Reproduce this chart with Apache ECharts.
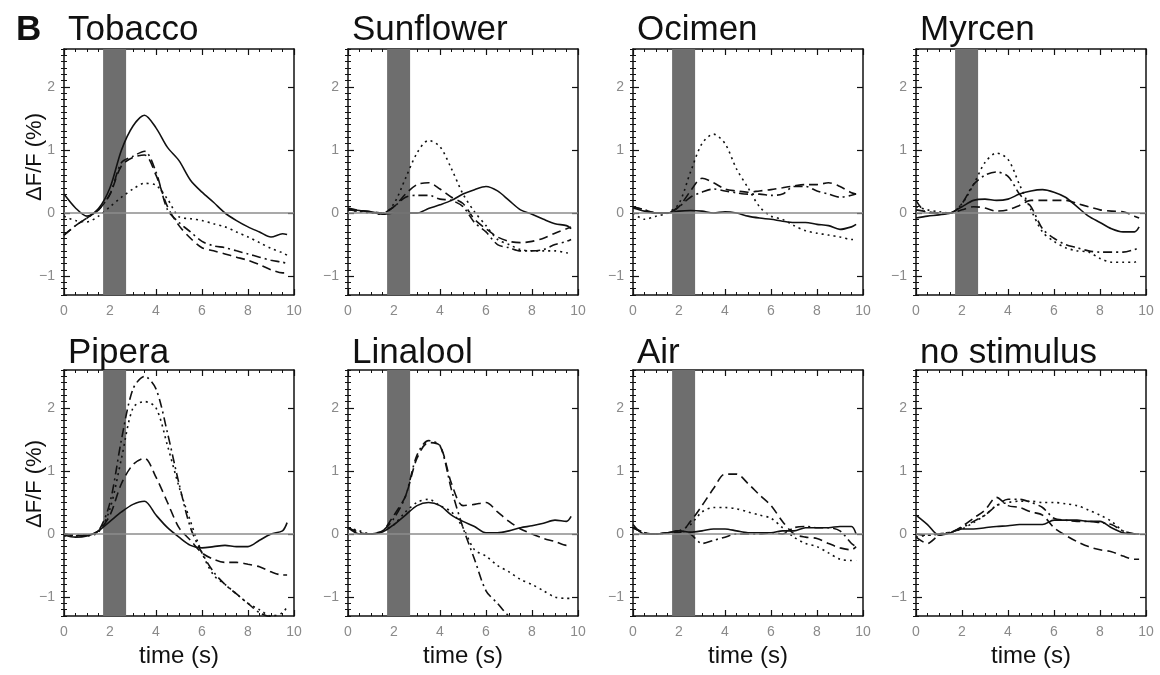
<!DOCTYPE html>
<html>
<head>
<meta charset="utf-8">
<title>ΔF/F traces</title>
<script src="https://cdn.jsdelivr.net/npm/echarts@6/dist/echarts.min.js"></script>
<style>
  html, body { margin: 0; padding: 0; background: #fff; }
  #chart { width: 1160px; height: 675px; }
</style>
</head>
<body>
<div id="chart"></div>
<script>
// sample times (s), shared by every trace
const times = [0, 0.5, 1, 1.5, 2, 2.5, 3, 3.5, 4, 4.5, 5, 5.5, 6, 6.5, 7, 7.5, 8, 8.5, 9, 9.5, 9.7];

// each odour: [solid, dotted, dashed, dash-dot] traces, ΔF/F in %
const tobacco = [
  [0.30, 0.08, -0.05, 0.07, 0.40, 1.00, 1.38, 1.55, 1.35, 1.04, 0.83, 0.52, 0.33, 0.17, 0.00, -0.12, -0.22, -0.30, -0.38, -0.33, -0.34],
  [-0.05, -0.12, -0.14, -0.05, 0.10, 0.25, 0.38, 0.47, 0.44, 0.22, -0.06, -0.09, -0.12, -0.17, -0.22, -0.30, -0.38, -0.47, -0.56, -0.63, -0.67],
  [-0.35, -0.20, -0.08, 0.05, 0.30, 0.75, 0.88, 0.92, 0.60, 0.10, -0.20, -0.40, -0.55, -0.60, -0.65, -0.70, -0.75, -0.82, -0.90, -0.95, -0.95],
  [-0.35, -0.20, -0.08, 0.05, 0.30, 0.80, 0.90, 0.98, 0.65, 0.05, -0.15, -0.30, -0.45, -0.52, -0.55, -0.60, -0.65, -0.70, -0.75, -0.78, -0.80]
];
const sunflower = [
  [0.06, 0.04, 0.02, -0.02, 0.00, 0.00, 0.00, 0.07, 0.13, 0.20, 0.30, 0.37, 0.42, 0.35, 0.20, 0.05, -0.02, -0.10, -0.17, -0.20, -0.25],
  [0.05, 0.02, 0.00, -0.02, 0.15, 0.55, 0.95, 1.15, 1.05, 0.70, 0.30, 0.02, -0.20, -0.42, -0.50, -0.58, -0.60, -0.60, -0.60, -0.63, -0.64],
  [0.08, 0.04, 0.02, 0.00, 0.10, 0.30, 0.45, 0.48, 0.38, 0.25, 0.15, -0.10, -0.25, -0.38, -0.45, -0.47, -0.45, -0.40, -0.32, -0.25, -0.22],
  [0.05, 0.03, 0.01, 0.00, 0.10, 0.25, 0.28, 0.28, 0.22, 0.20, 0.10, -0.15, -0.30, -0.50, -0.55, -0.60, -0.60, -0.58, -0.50, -0.45, -0.42]
];
const ocimen = [
  [0.08, 0.03, 0.00, 0.00, 0.03, 0.04, 0.03, 0.00, 0.02, 0.00, -0.05, -0.08, -0.10, -0.13, -0.15, -0.15, -0.18, -0.20, -0.26, -0.22, -0.18],
  [0.00, -0.10, -0.05, 0.00, 0.15, 0.65, 1.10, 1.25, 1.10, 0.70, 0.40, 0.10, -0.05, -0.10, -0.20, -0.28, -0.32, -0.35, -0.38, -0.42, -0.42],
  [0.10, 0.05, 0.00, 0.00, 0.10, 0.35, 0.55, 0.48, 0.38, 0.35, 0.33, 0.35, 0.37, 0.40, 0.43, 0.45, 0.45, 0.48, 0.42, 0.32, 0.30],
  [0.10, 0.05, 0.00, 0.00, 0.10, 0.25, 0.33, 0.38, 0.35, 0.32, 0.30, 0.30, 0.28, 0.30, 0.42, 0.42, 0.35, 0.30, 0.25, 0.28, 0.30]
];
const myrcen = [
  [-0.08, -0.05, -0.03, 0.00, 0.10, 0.20, 0.22, 0.20, 0.22, 0.30, 0.35, 0.37, 0.33, 0.25, 0.10, -0.05, -0.15, -0.25, -0.30, -0.30, -0.22],
  [0.10, 0.05, 0.02, 0.00, 0.15, 0.45, 0.80, 0.95, 0.85, 0.45, 0.05, -0.30, -0.45, -0.55, -0.60, -0.62, -0.72, -0.78, -0.78, -0.78, -0.75],
  [0.05, 0.02, 0.00, 0.00, 0.05, 0.10, 0.08, 0.03, 0.05, 0.12, 0.20, 0.20, 0.20, 0.20, 0.15, 0.10, 0.05, 0.03, 0.02, -0.05, -0.08],
  [0.20, 0.00, 0.00, 0.00, 0.15, 0.45, 0.60, 0.65, 0.58, 0.30, 0.10, -0.25, -0.40, -0.50, -0.55, -0.60, -0.62, -0.62, -0.62, -0.58, -0.55]
];
const pipera = [
  [-0.02, -0.05, -0.03, 0.05, 0.20, 0.35, 0.47, 0.52, 0.30, 0.10, -0.05, -0.18, -0.22, -0.20, -0.18, -0.20, -0.20, -0.10, 0.00, 0.05, 0.18],
  [-0.03, -0.03, -0.03, 0.03, 0.40, 1.20, 2.00, 2.10, 2.00, 1.40, 0.75, 0.20, -0.30, -0.65, -0.80, -0.95, -1.10, -1.20, -1.30, -1.25, -1.15],
  [0.00, -0.02, -0.02, 0.05, 0.30, 0.80, 1.10, 1.20, 0.90, 0.50, 0.10, -0.10, -0.30, -0.40, -0.45, -0.45, -0.48, -0.52, -0.60, -0.65, -0.65],
  [0.00, -0.02, -0.02, 0.05, 0.50, 1.50, 2.30, 2.50, 2.30, 1.60, 0.80, 0.10, -0.30, -0.60, -0.80, -0.95, -1.10, -1.25, -1.32, -1.35, -1.35]
];
const linalool = [
  [0.10, 0.00, 0.00, 0.03, 0.15, 0.30, 0.45, 0.50, 0.45, 0.30, 0.20, 0.12, 0.02, 0.02, 0.05, 0.10, 0.13, 0.17, 0.22, 0.20, 0.28],
  [0.10, 0.05, 0.00, 0.05, 0.15, 0.35, 0.50, 0.55, 0.45, 0.35, 0.10, -0.25, -0.35, -0.50, -0.60, -0.72, -0.80, -0.90, -1.00, -1.02, -1.02],
  [0.10, 0.02, 0.00, 0.05, 0.30, 0.60, 1.20, 1.45, 1.40, 0.80, 0.45, 0.47, 0.50, 0.35, 0.20, 0.08, 0.00, -0.07, -0.12, -0.18, -0.18],
  [0.10, 0.02, 0.00, 0.05, 0.25, 0.60, 1.25, 1.48, 1.40, 0.70, 0.10, -0.40, -0.90, -1.10, -1.30, -1.40, -1.45, -1.45, -1.45, -1.45, -1.45]
];
const air = [
  [0.15, 0.00, 0.00, 0.02, 0.05, 0.03, 0.05, 0.08, 0.08, 0.05, 0.02, 0.02, 0.02, 0.05, 0.05, 0.10, 0.10, 0.10, 0.12, 0.12, 0.00],
  [0.10, 0.02, 0.00, 0.02, 0.05, 0.15, 0.35, 0.42, 0.42, 0.40, 0.35, 0.30, 0.25, 0.10, -0.05, -0.15, -0.20, -0.30, -0.40, -0.42, -0.42],
  [0.10, 0.02, 0.00, 0.02, 0.02, 0.20, 0.45, 0.72, 0.95, 0.95, 0.80, 0.62, 0.45, 0.20, 0.00, -0.05, -0.07, -0.15, -0.22, -0.25, -0.20],
  [0.10, 0.02, 0.00, 0.02, 0.05, 0.00, -0.15, -0.10, -0.05, 0.00, 0.00, 0.00, 0.02, 0.00, 0.10, 0.12, 0.10, 0.10, 0.05, -0.15, -0.20]
];
const noStimulus = [
  [0.30, 0.15, -0.02, 0.02, 0.08, 0.08, 0.10, 0.12, 0.13, 0.15, 0.15, 0.15, 0.22, 0.22, 0.22, 0.20, 0.20, 0.10, 0.02, 0.00, 0.00],
  [-0.05, -0.02, 0.00, 0.03, 0.08, 0.18, 0.30, 0.45, 0.50, 0.52, 0.52, 0.50, 0.50, 0.48, 0.45, 0.38, 0.30, 0.20, 0.05, 0.00, -0.02],
  [-0.05, -0.15, -0.02, 0.02, 0.12, 0.25, 0.38, 0.58, 0.45, 0.42, 0.35, 0.30, 0.10, -0.02, -0.12, -0.20, -0.25, -0.28, -0.35, -0.40, -0.40],
  [0.00, -0.02, 0.00, 0.03, 0.10, 0.20, 0.30, 0.45, 0.55, 0.55, 0.50, 0.42, 0.25, 0.22, 0.20, 0.20, 0.18, 0.15, 0.05, 0.00, -0.02]
];

const panelNames = ['Tobacco', 'Sunflower', 'Ocimen', 'Myrcen', 'Pipera', 'Linalool', 'Air', 'no stimulus'];
const panelData = [tobacco, sunflower, ocimen, myrcen, pipera, linalool, air, noStimulus];
const hasStimulus = [true, true, true, true, true, true, true, false];
const stimStart = 1.7, stimEnd = 2.7;   // grey bar, s
const yMajor = [-1, 0, 1, 2];

const FONT = "'Liberation Sans', Arial, Helvetica, sans-serif";
const colLeft = [64, 348, 633, 916];
const rowTop = [49, 370];
const plotW = 230, plotH = 246;

// solid, dotted, dashed, dash-dot
const dashes = ['solid', [2, 4], [9, 5], [9, 4, 2, 4]];

const grid = [], xAxis = [], yAxis = [], series = [], title = [];

title.push({ text: 'B', left: 11, top: 8, textStyle: { fontSize: 35, fontWeight: 'bold', color: '#111', fontFamily: FONT } });

panelNames.forEach((name, i) => {
  const col = i % 4, row = Math.floor(i / 4);
  grid.push({ left: colLeft[col], top: rowTop[row], width: plotW, height: plotH });
  title.push({
    text: name, left: colLeft[col] - 1, top: row === 0 ? 8 : 331,
    textStyle: { fontSize: 35, fontWeight: 'normal', color: '#111', fontFamily: FONT }
  });

  const line = { show: true, onZero: false, lineStyle: { color: '#111', width: 1.5 } };
  const xBase = {
    gridIndex: i, type: 'value', min: 0, max: 10, interval: 2,
    axisLine: line, splitLine: { show: false },
    axisTick: { show: true, inside: true, length: 6, lineStyle: { color: '#111', width: 1.2 } },
    minorTick: { show: true, splitNumber: 4, length: 3, lineStyle: { color: '#111', width: 1 } }
  };
  xAxis.push(Object.assign({}, xBase, {
    position: 'bottom',
    axisLabel: { color: '#8a8a8a', fontSize: 14, margin: 9, fontFamily: FONT },
    name: row === 1 ? 'time (s)' : '', nameLocation: 'middle', nameGap: 28,
    nameTextStyle: { fontSize: 24, color: '#111', fontFamily: FONT }
  }));
  xAxis.push(Object.assign({}, xBase, { position: 'top', axisLabel: { show: false } }));

  ['left', 'right'].forEach(pos => {
    // major ticks (with labels on the left)
    yAxis.push({
      gridIndex: i, type: 'value', min: -1.3, max: 2.6, position: pos,
      axisLine: line, splitLine: { show: false },
      axisTick: { show: true, inside: true, length: 6, customValues: yMajor, lineStyle: { color: '#111', width: 1.2 } },
      axisLabel: {
        show: pos === 'left', customValues: yMajor, color: '#8a8a8a', fontSize: 14, margin: 9, fontFamily: FONT,
        formatter: v => (v < 0 ? '\u2212' + Math.abs(v) : String(v))
      }
    });
    // minor ticks every 0.1
    yAxis.push({
      gridIndex: i, type: 'value', min: -1.3, max: 2.6, interval: 0.1, position: pos,
      axisLine: { show: false }, splitLine: { show: false }, axisLabel: { show: false },
      axisTick: { show: true, inside: true, length: 3, lineStyle: { color: '#111', width: 1 } }
    });
  });

  // stimulus bar + zero line
  series.push({
    type: 'line', xAxisIndex: 2 * i, yAxisIndex: 4 * i, data: [], z: 1, silent: true,
    markArea: hasStimulus[i] ? {
      silent: true, itemStyle: { color: '#6e6e6e', opacity: 1 },
      data: [[{ xAxis: stimStart }, { xAxis: stimEnd }]]
    } : undefined,
    markLine: {
      silent: true, symbol: 'none', label: { show: false },
      lineStyle: { color: '#8c8c8c', width: 1.5, type: 'solid' },
      data: [{ yAxis: 0 }]
    }
  });

  panelData[i].forEach((vals, k) => {
    series.push({
      type: 'line', xAxisIndex: 2 * i, yAxisIndex: 4 * i, z: 3,
      symbol: 'none', smooth: 0.3, silent: true,
      lineStyle: { color: '#111', width: 1.6, type: dashes[k] },
      data: times.map((t, j) => [t, vals[j]])
    });
  });
});

const chart = echarts.init(document.getElementById('chart'));
chart.setOption({
  backgroundColor: '#fff',
  animation: false,
  title: title,
  grid: grid,
  xAxis: xAxis,
  yAxis: yAxis,
  series: series,
  graphic: [
    { type: 'text', x: 35, y: 157, rotation: Math.PI / 2,
      style: { text: 'ΔF/F (%)', font: '22px ' + FONT, fill: '#111', align: 'center', verticalAlign: 'middle' } },
    { type: 'text', x: 35, y: 484, rotation: Math.PI / 2,
      style: { text: 'ΔF/F (%)', font: '22px ' + FONT, fill: '#111', align: 'center', verticalAlign: 'middle' } }
  ]
});
</script>
</body>
</html>
